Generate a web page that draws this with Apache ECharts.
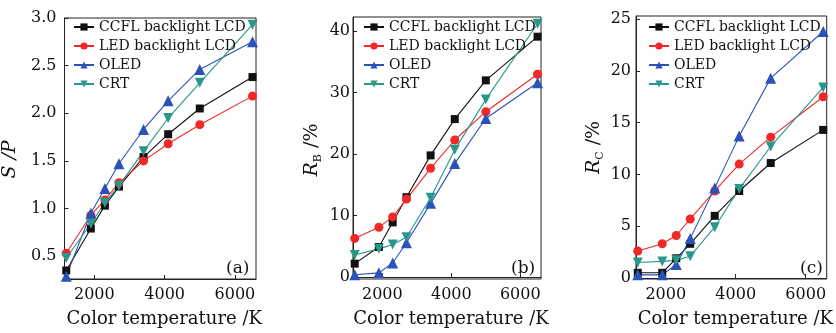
<!DOCTYPE html>
<html><head><meta charset="utf-8">
<script src="https://cdn.jsdelivr.net/npm/echarts@6/dist/echarts.min.js"></script>
<style>html,body{margin:0;padding:0;background:#fff}#c{width:836px;height:333px}</style>
</head><body><div id="c"></div>
<script>
const cct = [1200, 1900, 2300, 2700, 3400, 4100, 5000, 6500];
const seriesNames = ['CCFL backlight LCD', 'LED backlight LCD', 'OLED', 'CRT'];
// panel (a) S/P
const spCCFL = [0.35, 0.79, 1.03, 1.23, 1.54, 1.78, 2.05, 2.38];
const spLED  = [0.53, 0.93, 1.09, 1.27, 1.50, 1.68, 1.88, 2.18];
const spOLED = [0.29, 0.95, 1.21, 1.47, 1.83, 2.13, 2.46, 2.75];
const spCRT  = [0.48, 0.84, 1.06, 1.24, 1.60, 1.95, 2.32, 2.93];
// panel (b) R_B /%
const rbCCFL = [2.2, 4.9, 8.9, 13.0, 19.8, 25.7, 32.0, 39.1];
const rbLED  = [6.3, 8.1, 9.8, 12.7, 17.7, 22.3, 26.9, 33.0];
const rbOLED = [0.4, 0.7, 2.3, 5.6, 12.0, 18.5, 25.8, 31.6];
const rbCRT  = [3.6, 4.6, 5.3, 6.5, 12.9, 20.7, 28.9, 41.2];
// panel (c) R_C /%
const rcCCFL = [0.5, 0.5, 1.9, 3.3, 6.0, 8.4, 11.1, 14.3];
const rcLED  = [2.6, 3.3, 4.1, 5.7, 8.4, 11.0, 13.6, 17.5];
const rcOLED = [0.3, 0.3, 1.3, 3.8, 8.7, 13.7, 19.3, 23.8];
const rcCRT  = [1.5, 1.6, 1.7, 2.1, 4.9, 8.6, 12.7, 18.4];
// ticks
const xTicks = [2000, 4000, 6000];
const spTicks = [0.5, 1.0, 1.5, 2.0, 2.5, 3.0];
const rbTicks = [0, 10, 20, 30, 40];
const rcTicks = [0, 5, 10, 15, 20, 25];
const panelLabels = ['(a)', '(b)', '(c)'];

const FONT = 'DejaVu Serif';
const colors = ['#111111', '#f02828', '#2a52b8', '#2a978c'];
const symbols = ['rect', 'circle', 'triangle', 'triangle'];
const symSizes = [8, 9, 11, 10];
const symRot = [0, 0, 0, 180];

const grids = [
  {left: 63, top: 18, width: 193, height: 267},
  {left: 353, top: 17, width: 188, height: 267},
  {left: 636, top: 16, width: 194, height: 268}
];
const yRanges = [[0.26, 3.0], [-0.3, 42.3], [-0.1, 25.3]];
const yTicksAll = [spTicks, rbTicks, rcTicks];
const yMargins = [8, 3, 5];
const yNames = ['{i|S /P}', '{i|R}{s|B}{t| /%}', '{i|R}{s|C}{t| /%}'];
const yNameGaps = [42, 29, 30];
const yNamePad = [[0, 22, 0, 0], [0, 4, 0, 0], [0, 0, 0, 0]];
const panelData = [
  [spCCFL, spLED, spOLED, spCRT],
  [rbCCFL, rbLED, rbOLED, rbCRT],
  [rcCCFL, rcLED, rcOLED, rcCRT]
];
const legendLeft = [73, 363, 648];

const chart = echarts.init(document.getElementById('c'));
const option = {
  animation: false,
  grid: grids.map(g => Object.assign({show: true, borderColor: '#222', borderWidth: 1, backgroundColor: 'transparent'}, g)),
  xAxis: grids.map((g, i) => ({
    type: 'value', gridIndex: i, min: 1150, max: 6600,
    name: 'Color temperature /K', nameLocation: 'middle', nameGap: 31,
    nameTextStyle: {fontFamily: FONT, fontSize: 18, color: '#111', padding: [0, 0, 0, 8]},
    axisLine: {lineStyle: {color: '#222', width: 1}},
    axisTick: {inside: true, length: 4, customValues: xTicks, lineStyle: {color: '#222'}},
    axisLabel: {customValues: xTicks, fontFamily: FONT, fontSize: 16, color: '#111', margin: 8,
      formatter: v => String(v)},
    splitLine: {show: false}
  })),
  yAxis: grids.map((g, i) => ({
    type: 'value', gridIndex: i, min: yRanges[i][0], max: yRanges[i][1],
    name: yNames[i], nameLocation: 'middle', nameGap: yNameGaps[i],
    nameTextStyle: {
      fontFamily: FONT, fontSize: 19, color: '#111', padding: yNamePad[i],
      rich: {
        i: {fontFamily: FONT, fontSize: 19, fontStyle: 'italic', color: '#111', lineHeight: 24},
        s: {fontFamily: FONT, fontSize: 11, color: '#111', lineHeight: 24, verticalAlign: 'bottom'},
        t: {fontFamily: FONT, fontSize: 19, color: '#111', lineHeight: 24}
      }
    },
    axisLine: {show: true, lineStyle: {color: '#222', width: 1}},
    axisTick: {show: true, inside: true, length: 4, customValues: yTicksAll[i], lineStyle: {color: '#222'}},
    axisLabel: {customValues: yTicksAll[i], fontFamily: FONT, fontSize: 16, color: '#111', margin: yMargins[i],
      formatter: v => i === 0 ? v.toFixed(1) : String(v)},
    splitLine: {show: false}
  })),
  legend: legendLeft.map(l => ({
    left: l, top: 20, orient: 'vertical', padding: 0, itemGap: 5,
    itemWidth: 20, itemHeight: 9, data: seriesNames,
    textStyle: {fontFamily: FONT, fontSize: 14, color: '#111', lineHeight: 14}
  })),
  graphic: panelLabels.map((t, i) => ({
    type: 'text',
    left: grids[i].left + grids[i].width - 6 - 24,
    top: 260,
    style: {text: t, fontFamily: FONT, fontSize: 17, fill: '#111'}
  })),
  series: []
};
panelData.forEach((arrs, p) => {
  arrs.forEach((arr, k) => {
    option.series.push({
      type: 'line', name: seriesNames[k], xAxisIndex: p, yAxisIndex: p,
      data: cct.map((x, j) => [x, arr[j]]),
      symbol: symbols[k], symbolSize: symSizes[k], symbolRotate: symRot[k],
      lineStyle: {color: colors[k], width: 1.1},
      itemStyle: {color: colors[k]},
      clip: false
    });
  });
});
chart.setOption(option);
</script></body></html>
